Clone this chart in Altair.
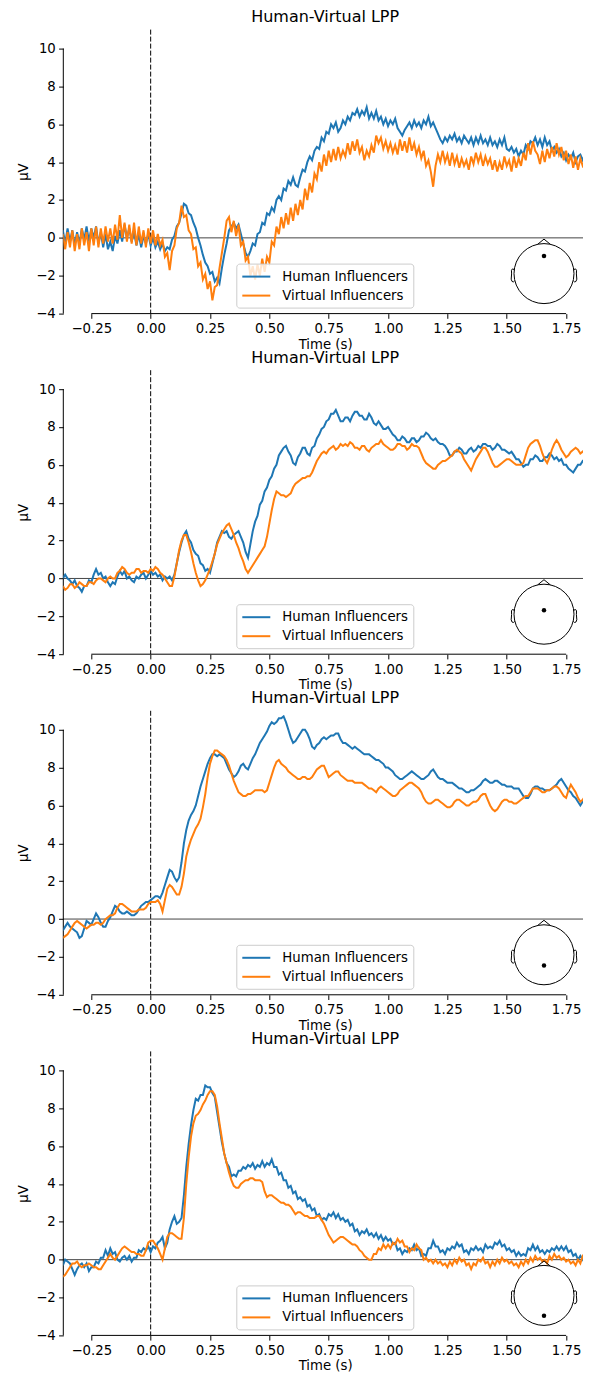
import altair as alt
import pandas as pd

FONT = "DejaVu Sans"
TITLE = "Human-Virtual LPP"
CONDITIONS = ["Human Influencers", "Virtual Influencers"]
COLORS = ["#1f77b4", "#ff7f0e"]
X_TICKS = [-0.25, 0.0, 0.25, 0.5, 0.75, 1.0, 1.25, 1.5, 1.75]
Y_TICKS = [-4, -2, 0, 2, 4, 6, 8, 10]
X_DOMAIN = [-0.368, 1.838]
Y_DOMAIN = [-4, 11]
X_SPINE = [-0.25, 1.75]
Y_SPINE = [-4, 10]

# sample times (s)
times = [round(-0.37 + 0.01 * i, 2) for i in range(222)]

# electrode position on the head map (anterior positive, in head radii)
ELEC = [0.59, 0.13, -0.36, -0.68]

# ---------------- panel 1 ----------------
h1 = [0.4,-0.3,0.5,-0.2,0.4,-0.4,0.3,-0.3,0.5,-0.1,
      0.6,-0.2,0.5,0.0,0.6,-0.3,0.3,-0.5,0.2,-0.6,
      -0.2,-0.7,0.1,-0.3,0.4,-0.2,0.7,0.0,0.5,-0.2,
      0.3,-0.4,0.2,-0.5,0.1,-0.3,0.2,-0.4,0.0,-0.5,
      -0.2,-0.6,-0.3,-0.7,-0.5,-0.6,-0.1,0.1,0.6,0.8,
      1.3,1.8,1.7,1.3,1.2,0.8,0.5,0.0,-0.4,-0.9,
      -1.3,-1.5,-1.9,-1.8,-2.3,-2.1,-2.4,-1.6,-0.9,-0.3,
      0.4,0.6,0.8,0.5,0.7,0.2,-0.3,-0.8,-1.0,-0.7,
      -0.3,-0.4,0.2,0.3,0.8,0.7,1.3,1.2,1.6,1.4,
      2.0,2.2,2.0,2.6,2.5,3.0,2.8,3.2,2.8,2.7,
      3.2,3.6,3.5,4.0,4.3,4.1,4.6,4.8,4.7,5.3,
      5.1,5.6,5.5,6.0,5.8,6.1,5.6,5.8,6.2,6.0,
      6.4,6.2,6.6,6.5,6.8,6.4,6.7,6.5,6.9,6.3,
      6.6,6.3,6.7,6.2,6.4,6.0,6.3,5.9,6.2,6.0,
      6.3,5.8,5.6,5.4,5.7,5.9,6.1,5.8,6.2,5.9,
      6.1,5.8,6.2,6.0,6.4,5.9,6.1,5.8,5.5,5.2,
      5.0,5.3,5.1,5.4,5.2,5.5,5.1,5.3,5.0,5.4,
      5.2,5.0,5.3,4.9,5.3,5.0,5.4,5.0,5.2,4.9,
      5.3,4.9,5.1,4.8,5.2,4.9,5.3,4.7,4.6,4.8,
      4.5,4.7,4.3,4.6,4.4,4.9,4.7,5.1,5.0,5.3,
      4.9,5.2,4.8,5.3,4.9,5.1,4.6,4.8,4.5,4.7,
      4.3,4.5,4.1,4.4,4.2,4.5,4.0,4.3,4.4,4.1,
      4.4,4.3]
v1 = [0.2,-0.6,0.3,-0.5,0.4,-0.7,0.2,-0.6,0.5,-0.4,
      0.3,-0.7,0.5,-0.4,0.6,-0.5,0.5,-0.3,0.6,-0.2,
      0.5,-0.3,0.7,-0.1,1.2,0.0,0.8,-0.2,0.7,-0.3,
      0.8,-0.4,0.6,-0.3,0.4,-0.5,0.5,-0.3,0.4,-0.4,
      0.2,-0.4,-0.1,-1.0,-0.8,-1.7,-0.7,-0.4,0.5,0.8,
      1.7,1.1,1.2,0.4,0.2,-0.6,-0.5,-1.5,-1.3,-2.2,
      -1.9,-2.7,-2.3,-3.3,-2.6,-2.5,-1.6,-0.8,0.0,0.9,
      1.1,0.3,0.9,0.1,0.7,-0.4,-0.2,-1.2,-1.0,-2.0,
      -1.5,-2.2,-1.4,-2.0,-1.1,-1.8,-1.0,-1.3,-0.2,-0.4,
      0.6,0.2,1.1,0.5,1.3,0.7,1.6,0.9,1.8,1.2,
      2.0,1.5,2.6,2.0,2.9,2.4,3.4,3.1,4.0,3.5,
      4.4,3.8,4.6,4.0,4.7,4.1,4.8,4.2,4.6,4.3,
      5.0,4.4,5.1,4.6,5.2,4.5,4.8,4.1,4.6,4.3,
      4.9,4.5,5.4,5.0,5.3,4.7,5.1,4.6,5.0,4.5,
      4.9,4.4,5.2,4.6,5.1,4.5,5.3,4.6,5.0,4.4,
      4.8,4.2,4.6,3.8,4.1,3.5,2.7,3.8,4.4,4.0,
      4.6,4.0,4.4,3.8,4.5,3.9,4.3,3.7,4.2,3.8,
      4.1,3.6,4.3,3.9,4.5,4.0,4.4,3.8,4.3,3.9,
      4.2,3.6,4.1,3.5,4.0,3.6,4.3,3.8,4.1,3.5,
      4.3,3.7,4.2,3.8,4.5,4.1,5.0,4.4,5.1,4.6,
      4.4,3.9,4.6,4.0,4.7,4.2,4.8,4.3,5.0,4.4,
      4.8,4.1,4.6,3.9,4.4,3.7,4.3,3.6,4.2,3.8,
      4.0,3.6]

# ---------------- panel 2 ----------------
h2 = [0.0,0.2,0.0,-0.1,-0.3,-0.1,-0.4,-0.5,-0.7,-0.4,
      -0.4,-0.1,-0.2,0.2,0.5,0.2,0.3,0.0,0.1,-0.2,
      -0.4,-0.2,-0.3,0.1,0.4,0.2,0.4,0.0,0.1,-0.1,
      -0.2,0.1,0.0,0.2,0.3,0.0,0.2,0.4,0.2,0.3,
      0.1,0.2,-0.1,0.1,0.0,0.1,-0.1,0.2,0.8,1.4,
      1.9,2.3,2.5,2.1,1.9,1.5,1.3,1.2,0.8,0.7,
      0.4,0.5,0.3,0.8,1.3,1.9,2.2,2.5,2.4,2.5,
      2.2,2.1,2.3,2.4,2.5,2.2,1.9,1.4,1.1,1.8,
      2.5,3.0,3.3,3.9,4.1,4.6,4.8,5.2,5.4,5.8,
      6.0,6.5,6.7,6.9,7.0,6.7,6.5,6.1,6.0,6.4,
      6.6,6.9,6.9,6.6,6.5,6.9,7.0,7.4,7.6,7.9,
      8.0,8.3,8.4,8.7,8.7,8.9,8.6,8.3,8.3,8.5,
      8.5,8.3,8.6,8.8,8.8,8.6,8.6,8.4,8.4,8.7,
      8.5,8.2,8.1,8.3,8.1,7.9,7.9,8.0,7.8,7.6,
      7.5,7.3,7.3,7.5,7.4,7.2,7.2,7.4,7.4,7.2,
      7.3,7.5,7.5,7.7,7.6,7.4,7.3,7.4,7.2,7.1,
      7.1,7.0,6.8,6.5,6.5,6.7,6.7,6.9,6.8,6.6,
      6.6,6.8,6.9,6.7,6.8,7.0,6.9,7.1,7.1,7.0,
      7.0,6.8,6.9,7.1,7.0,6.8,6.8,6.7,6.6,6.7,
      6.5,6.3,6.3,6.1,5.9,6.0,6.0,6.3,6.3,6.5,
      6.4,6.2,6.2,6.4,6.4,6.6,6.5,6.3,6.4,6.2,
      6.3,6.0,6.0,5.8,5.7,5.6,5.8,6.0,6.0,6.2,
      6.1,5.9]
v2 = [-0.4,-0.6,-0.5,-0.3,-0.3,-0.5,-0.4,-0.2,-0.3,-0.4,
      -0.4,-0.2,-0.2,-0.3,-0.1,0.0,0.0,-0.1,-0.2,0.0,
      0.1,0.0,0.0,0.3,0.4,0.6,0.5,0.3,0.2,0.3,
      0.3,0.5,0.5,0.3,0.4,0.4,0.3,0.5,0.4,0.6,
      0.5,0.3,0.2,0.0,-0.2,-0.4,-0.4,0.1,0.8,1.5,
      2.0,2.3,2.3,1.9,1.4,0.8,0.3,-0.1,-0.4,-0.3,
      -0.1,0.2,0.5,0.9,1.3,1.8,2.1,2.4,2.6,2.8,
      2.9,2.6,2.3,1.9,1.6,1.2,0.9,0.5,0.3,0.5,
      0.7,0.9,1.1,1.3,1.5,1.7,2.2,2.9,3.6,4.2,
      4.6,4.5,4.4,4.4,4.3,4.4,4.5,4.8,5.0,5.1,
      5.2,5.3,5.3,5.4,5.4,5.6,5.9,6.2,6.4,6.6,
      6.7,6.6,6.8,6.9,7.0,6.8,6.9,7.1,7.0,7.1,
      7.0,7.2,7.1,6.9,6.9,6.8,7.0,7.0,6.8,6.7,
      6.9,7.0,7.1,7.1,7.3,7.1,7.0,6.9,6.8,6.8,
      6.9,7.1,7.1,7.0,7.0,6.8,6.9,7.1,7.0,7.0,
      6.9,6.6,6.3,6.1,6.0,5.9,5.8,5.8,6.0,6.1,
      6.2,6.2,6.3,6.4,6.5,6.7,6.8,6.7,6.6,6.3,
      6.1,5.9,5.7,6.0,6.3,6.5,6.7,6.9,6.9,6.7,
      6.4,6.1,5.9,5.9,6.0,6.1,6.2,6.3,6.3,6.2,
      6.1,6.0,6.0,6.0,6.1,6.5,6.9,7.1,7.2,7.3,
      7.3,7.0,6.6,6.3,6.1,6.4,6.8,7.1,7.3,7.1,
      6.8,6.6,6.4,6.5,6.7,6.8,6.9,6.8,6.6,6.7,
      6.8,6.7]

# ---------------- panel 3 ----------------
h3 = [-0.6,-0.4,-0.2,-0.4,-0.5,-0.6,-0.7,-1.0,-0.9,-0.5,
      -0.1,-0.2,-0.3,0.0,0.3,0.1,-0.2,-0.4,-0.4,-0.1,
      0.1,0.4,0.7,0.6,0.4,0.3,0.3,0.4,0.3,0.2,
      0.2,0.3,0.5,0.7,0.8,0.9,0.9,1.0,1.1,1.2,
      1.2,1.1,1.4,1.8,2.2,2.6,2.5,2.2,2.0,2.2,
      3.0,4.0,4.7,5.2,5.5,5.7,6.0,6.5,7.0,7.4,
      7.8,8.2,8.5,8.7,8.7,8.6,8.7,8.6,8.5,8.2,
      7.9,7.7,7.5,7.6,7.8,8.1,8.2,8.0,7.9,8.2,
      8.5,8.7,9.0,9.3,9.5,9.7,9.9,10.2,10.4,10.3,
      10.4,10.6,10.6,10.7,10.4,10.0,9.6,9.3,9.4,9.6,
      9.8,10.0,10.0,9.8,9.5,9.1,9.0,9.2,9.3,9.5,
      9.6,9.5,9.6,9.7,9.7,9.8,9.8,9.5,9.3,9.3,
      9.2,9.1,9.0,9.1,9.0,8.9,8.8,8.7,8.7,8.7,
      8.6,8.5,8.4,8.4,8.3,8.2,8.0,8.0,7.9,7.8,
      7.6,7.5,7.4,7.4,7.5,7.6,7.7,7.8,7.7,7.6,
      7.5,7.4,7.4,7.5,7.6,7.8,7.9,7.7,7.5,7.4,
      7.4,7.3,7.2,7.2,7.2,7.1,7.0,6.9,6.9,6.8,
      6.7,6.7,6.8,6.8,6.9,7.0,7.1,7.3,7.4,7.3,
      7.2,7.2,7.3,7.3,7.2,7.1,7.1,7.0,7.0,7.0,
      6.9,6.9,6.9,6.7,6.5,6.4,6.4,6.6,6.9,7.0,
      7.0,6.9,6.9,6.8,6.8,6.8,6.9,7.0,7.1,7.3,
      7.4,7.2,7.0,6.8,6.7,6.5,6.4,6.2,6.0,6.2,
      6.5,6.4]
v3 = [-1.0,-0.9,-0.8,-0.6,-0.4,-0.2,-0.1,-0.2,-0.3,-0.4,
      -0.5,-0.4,-0.3,-0.3,-0.2,-0.2,-0.3,-0.2,0.0,0.1,
      0.2,0.2,0.3,0.6,0.8,0.8,0.7,0.6,0.5,0.4,
      0.4,0.4,0.5,0.5,0.5,0.6,0.8,0.9,0.9,0.9,
      1.0,0.8,0.4,1.0,1.6,1.8,1.7,1.5,1.3,1.3,
      1.7,2.4,3.3,3.8,4.2,4.5,4.8,5.0,5.3,5.9,
      6.6,7.5,8.2,8.6,8.9,8.9,8.8,8.7,8.6,8.4,
      8.1,7.7,7.3,7.0,6.7,6.6,6.5,6.5,6.6,6.6,
      6.7,6.8,6.8,6.8,6.8,6.7,6.8,7.2,7.6,8.0,
      8.3,8.4,8.2,8.1,8.0,7.8,7.7,7.6,7.5,7.4,
      7.4,7.5,7.5,7.4,7.4,7.5,7.7,7.9,8.0,8.1,
      8.1,7.8,7.5,7.6,7.7,7.8,7.8,7.6,7.5,7.4,
      7.3,7.3,7.3,7.2,7.2,7.2,7.2,7.1,7.0,6.9,
      6.9,6.8,6.7,6.9,7.0,6.9,6.8,6.7,6.6,6.5,
      6.5,6.6,6.8,6.9,7.0,7.1,7.2,7.2,7.1,7.0,
      6.9,6.7,6.4,6.2,6.1,6.1,6.2,6.3,6.3,6.2,
      6.1,6.0,5.9,5.9,6.0,6.2,6.3,6.3,6.2,6.1,
      6.0,6.0,6.1,6.2,6.2,6.3,6.5,6.6,6.6,6.3,
      6.0,5.8,5.7,5.8,6.0,6.2,6.3,6.3,6.2,6.2,
      6.1,6.1,6.2,6.3,6.4,6.5,6.5,6.7,6.9,6.9,
      6.9,6.8,6.7,6.7,6.8,6.8,6.9,7.0,7.0,6.9,
      6.7,6.5,6.4,6.8,7.1,6.9,6.7,6.4,6.2,6.3,
      6.5,6.4]

# ---------------- panel 4 ----------------
h4 = [-0.3,0.0,-0.1,-0.2,-0.5,-0.8,-0.5,-0.3,-0.2,-0.4,
      -0.2,-0.6,-0.4,-0.4,-0.1,-0.2,0.1,0.1,0.5,0.2,
      0.6,0.3,0.4,0.0,-0.1,0.1,0.2,0.0,0.2,-0.1,
      0.1,0.1,0.5,0.4,0.6,0.5,0.7,0.4,0.7,0.6,
      0.9,1.0,1.2,0.6,0.9,1.6,2.0,2.3,1.9,2.0,
      2.2,3.4,4.9,6.1,7.1,7.9,8.5,8.4,8.7,8.7,
      9.2,9.1,9.1,8.8,8.6,7.8,7.0,6.2,5.6,5.1,
      4.9,4.4,4.5,4.4,4.7,4.7,4.9,4.8,5.0,4.9,
      5.1,4.8,5.0,4.9,5.2,4.9,5.1,5.0,5.3,4.9,
      4.9,4.5,4.6,4.2,4.2,3.8,3.9,3.5,3.6,3.2,
      3.3,3.1,3.2,2.8,2.9,2.6,2.7,2.3,2.4,2.1,
      2.2,2.1,2.4,2.3,2.5,2.2,2.4,2.1,2.2,2.0,
      2.1,1.8,1.9,1.5,1.6,1.3,1.5,1.4,1.6,1.3,
      1.4,1.2,1.4,1.1,1.3,1.0,1.2,1.0,1.1,0.8,
      0.9,0.5,0.6,0.3,0.5,0.4,0.6,0.5,0.8,0.5,
      0.6,0.2,0.3,0.2,0.6,0.6,1.0,0.7,0.7,0.4,
      0.5,0.3,0.6,0.5,0.7,0.6,0.9,0.7,0.8,0.4,
      0.5,0.3,0.6,0.5,0.7,0.5,0.6,0.4,0.8,0.6,
      0.7,0.6,0.9,0.8,1.0,0.7,0.8,0.5,0.6,0.4,
      0.5,0.2,0.4,0.2,0.3,0.2,0.6,0.5,0.8,0.5,
      0.7,0.4,0.5,0.3,0.5,0.4,0.6,0.5,0.7,0.5,
      0.7,0.5,0.7,0.4,0.5,0.2,0.3,0.0,0.2,0.0,
      0.3,0.1]
v4 = [-0.9,-0.8,-0.6,-0.4,-0.2,-0.2,-0.1,-0.3,-0.4,-0.3,
      -0.3,-0.2,-0.3,-0.4,-0.4,-0.5,-0.5,-0.3,-0.1,0.1,
      0.3,0.1,0.0,0.2,0.4,0.6,0.7,0.6,0.5,0.4,
      0.4,0.3,0.3,0.2,0.2,0.5,0.9,1.0,1.0,0.8,
      0.6,0.3,0.0,0.6,1.2,1.4,1.4,1.3,1.2,1.1,
      1.1,2.2,4.0,5.4,6.5,7.2,7.6,7.7,7.9,8.2,
      8.4,8.7,8.9,8.9,8.7,8.1,7.2,6.4,5.6,5.1,
      4.6,4.2,3.9,3.8,3.8,4.0,4.1,4.2,4.2,4.3,
      4.3,4.2,4.2,4.2,4.1,3.6,3.3,3.4,3.4,3.3,
      3.2,3.1,3.0,3.0,2.9,2.9,2.8,2.6,2.4,2.5,
      2.5,2.4,2.3,2.3,2.2,2.2,2.2,2.3,2.3,2.1,
      1.9,1.6,1.3,1.1,0.9,1.0,1.1,1.2,1.2,1.1,
      1.0,0.9,0.8,0.8,0.7,0.5,0.4,0.2,0.1,0.0,
      0.0,0.3,0.3,0.6,0.5,0.8,0.6,0.8,0.6,0.9,
      0.8,1.1,0.9,1.0,0.7,0.7,0.4,0.6,0.5,0.8,
      0.6,0.5,0.0,0.1,-0.1,0.0,-0.2,0.0,-0.2,-0.1,
      -0.3,-0.2,-0.4,-0.1,-0.3,0.0,-0.2,0.1,-0.1,0.0,
      -0.3,-0.2,-0.5,-0.2,-0.3,0.0,-0.1,0.1,-0.2,-0.1,
      -0.4,-0.1,-0.3,0.0,-0.2,0.1,-0.1,0.0,-0.2,-0.1,
      -0.3,-0.2,-0.4,-0.1,-0.3,0.0,-0.2,0.1,-0.1,0.2,
      0.0,0.1,-0.1,0.0,-0.2,0.2,0.0,0.3,0.1,0.2,
      0.0,0.1,-0.1,0.0,-0.2,-0.1,-0.3,0.0,-0.2,0.2,
      0.1,0.2]

PANELS = [(h1, v1, ELEC[0]), (h2, v2, ELEC[1]), (h3, v3, ELEC[2]), (h4, v4, ELEC[3])]

W, H = 523.7, 284
HEAD_X, HEAD_Y, HEAD_R = 480.7, 244, 30

# nose and ears (MNE head outline), unit = head radius, svg y downward
_ear_x = [0.994, 1.02, 1.036, 1.0598, 1.0838, 1.08, 1.094, 1.064, 1.02, 0.978]
_ear_y = [-0.111, -0.155, -0.1566, -0.1492, -0.111, 0.011, 0.1864, 0.2626, 0.2768, 0.2398]


def _pl(xs, ys):
    return "M" + " L".join(f"{x:.4f},{y:.4f}" for x, y in zip(xs, ys))


HEAD_PATH = " ".join([
    "M-0.209,-0.978 L0,-1.15 L0.209,-0.978",
    _pl(_ear_x, _ear_y),
    _pl([-x for x in _ear_x], _ear_y),
])


def make_panel(human, virtual, elec):
    n = min(len(times), len(human), len(virtual))
    df = pd.DataFrame({
        "t": list(times[:n]) * 2,
        "v": list(human[:n]) + list(virtual[:n]),
        "cond": [CONDITIONS[0]] * n + [CONDITIONS[1]] * n,
    })
    one = pd.DataFrame({"k": [0]})
    xs = alt.Scale(domain=X_DOMAIN, nice=False, zero=False)
    ys = alt.Scale(domain=Y_DOMAIN, nice=False, zero=False)

    xaxis = alt.Axis(
        values=X_TICKS, format=".2f", title="Time (s)", domain=False, grid=False,
        tickSize=4.7, tickColor="black", tickWidth=1, labelPadding=3.3,
        labelFont=FONT, labelFontSize=13.3, labelColor="black",
        titleFont=FONT, titleFontSize=13.3, titleColor="black", titleFontWeight="normal",
        titleY=30.5, titleBaseline="middle",
        labelFlush=False, labelOverlap=False,
    )
    yaxis = alt.Axis(
        values=Y_TICKS, format="d", title="µV", domain=False, grid=False,
        tickSize=4.7, tickColor="black", tickWidth=1, labelPadding=3.3,
        labelFont=FONT, labelFontSize=13.3, labelColor="black",
        titleFont=FONT, titleFontSize=13.3, titleColor="black", titleFontWeight="normal",
        titleX=-39.3, titleY=142, titleAngle=270, titleAlign="center", titleBaseline="middle",
        labelOverlap=False,
    )
    legend = alt.Legend(
        orient="none", legendX=173, legendY=234, title=None,
        symbolType="M-2,0L2,0", symbolSize=196, symbolStrokeWidth=2,
        symbolOffset=7, labelOffset=18,
        labelFont=FONT, labelFontSize=13.3, labelColor="black",
        padding=5, rowPadding=4,
        strokeColor="#cccccc", fillColor="rgba(255,255,255,0.8)", cornerRadius=3,
    )

    zero = alt.Chart(one).mark_rule(color="#444444", strokeWidth=1).encode(y=alt.datum(0))
    vline = alt.Chart(one).mark_rule(color="black", strokeWidth=1, strokeDash=[5, 2]).encode(
        x=alt.datum(0))
    yspine = alt.Chart(one).mark_rule(color="black", strokeWidth=1).encode(
        x=alt.value(0), y=alt.datum(Y_SPINE[0]), y2=alt.datum(Y_SPINE[1]))
    xspine = alt.Chart(one).mark_rule(color="black", strokeWidth=1).encode(
        y=alt.datum(Y_SPINE[0]), x=alt.datum(X_SPINE[0]), x2=alt.datum(X_SPINE[1]))

    lines = alt.Chart(df).mark_line(strokeWidth=2, clip=True).encode(
        x=alt.X("t:Q", scale=xs, axis=xaxis),
        y=alt.Y("v:Q", scale=ys, axis=yaxis),
        color=alt.Color("cond:N", scale=alt.Scale(domain=CONDITIONS, range=COLORS), legend=legend),
    )

    title = alt.Chart(one).mark_text(
        text=TITLE, font=FONT, fontSize=16, color="black", align="center", baseline="alphabetic"
    ).encode(x=alt.value(W / 2), y=alt.value(-7.6))

    size = (2 * HEAD_R) ** 2
    head = alt.Chart(one).mark_point(shape="circle", size=size, filled=False, color="black",
                                     strokeWidth=1, opacity=1).encode(
        x=alt.value(HEAD_X), y=alt.value(HEAD_Y))
    nose_ears = alt.Chart(one).mark_point(shape=HEAD_PATH, size=size, filled=False, color="black",
                                          strokeWidth=1, opacity=1).encode(
        x=alt.value(HEAD_X), y=alt.value(HEAD_Y))
    dot = alt.Chart(one).mark_point(shape="circle", size=20, filled=True, color="black",
                                    opacity=1).encode(
        x=alt.value(HEAD_X), y=alt.value(HEAD_Y - HEAD_R * elec))

    return alt.layer(zero, vline, yspine, xspine, lines, head, nose_ears, dot, title).properties(
        width=W, height=H,
    )


panels = [make_panel(*p) for p in PANELS]

chart = alt.vconcat(*panels, spacing=56.6, bounds="flush").resolve_legend(
    color="independent"
).properties(
    padding={"left": 8.3, "top": 0.6, "right": -5.2, "bottom": 0},
    background="white",
).configure_view(stroke=None)

chart.save("out.html", embed_options={"renderer": "svg", "actions": False})
